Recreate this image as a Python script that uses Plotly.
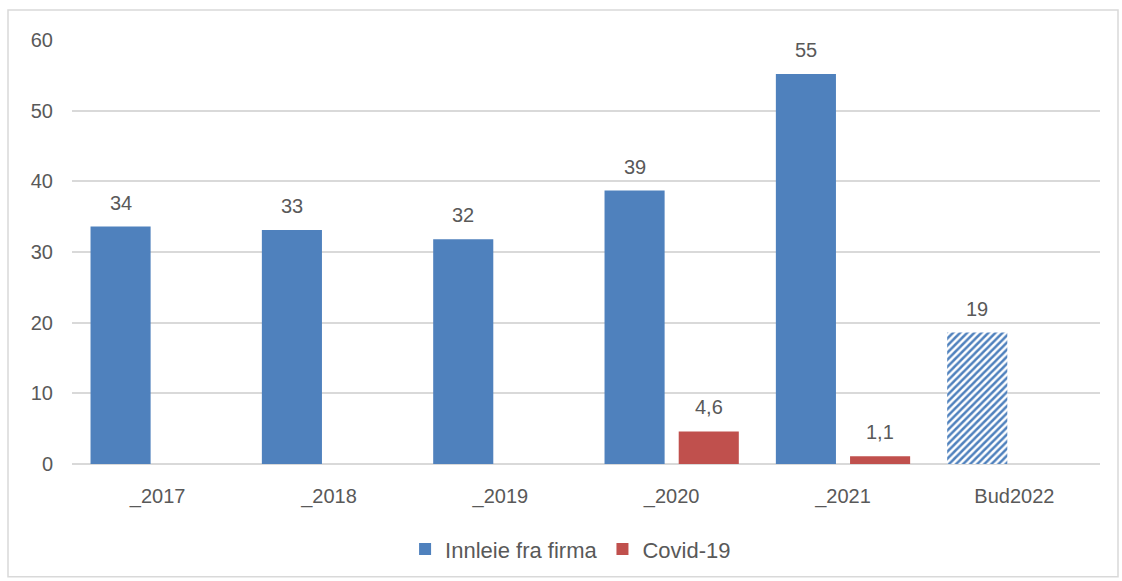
import plotly.graph_objects as go

categories = ["_2017", "_2018", "_2019", "_2020", "_2021", "Bud2022"]
innleie = [33.6, 33.1, 31.8, 38.7, 55.2, 18.6]
innleie_labels = ["34", "33", "32", "39", "55", "19"]
covid = [None, None, None, 4.6, 1.1, None]
covid_labels = ["", "", "", "4,6", "1,1", ""]
patterns = ["", "", "", "", "", "/"]

BLUE = "#4f81bd"
RED = "#c0504d"
GRAY = "#595959"
FONT = "Liberation Sans"
FS = 20

fig = go.Figure()
fig.add_trace(go.Bar(
    name="Innleie fra firma", x=categories, y=innleie,
    marker=dict(color=BLUE, line=dict(width=0),
                pattern=dict(shape=patterns, fgcolor=BLUE, bgcolor="white",
                             fillmode="replace", size=5, solidity=0.5)),
))
fig.add_trace(go.Bar(
    name="Covid-19", x=categories, y=covid,
    marker=dict(color=RED, line=dict(width=0)),
))

# value labels above bars
plot_w = 1122 - 72 - 22
slot = (1 - 0.134) * plot_w / len(categories) / 2
for c, v, t in zip(categories, innleie, innleie_labels):
    fig.add_annotation(x=c, y=v, text=t, showarrow=False, xshift=-slot / 2,
                       yanchor="bottom", yshift=11,
                       font=dict(family=FONT, size=FS, color=GRAY))
for c, v, t in zip(categories, covid, covid_labels):
    if v is not None:
        fig.add_annotation(x=c, y=v, text=t, showarrow=False, xshift=slot / 2,
                           yanchor="bottom", yshift=11,
                           font=dict(family=FONT, size=FS, color=GRAY))

# outer chart border
fig.add_shape(type="rect", xref="paper", yref="paper",
              x0=(8 - 72) / 1028, x1=(1118 - 72) / 1028,
              y0=(465 - 578) / 425, y1=(465 - 10) / 425,
              line=dict(color="#d9d9d9", width=1.5), fillcolor="rgba(0,0,0,0)",
              layer="below")

fig.update_layout(
    width=1122, height=581,
    margin=dict(l=72, r=22, t=40, b=116),
    paper_bgcolor="white", plot_bgcolor="white",
    barmode="group", bargap=0.134, bargroupgap=0.19,
    separators=",.",
    font=dict(family=FONT, size=FS, color=GRAY),
    showlegend=True,
    legend=dict(orientation="h", x=0.485, xanchor="center", y=-0.198, yanchor="middle",
                font=dict(family=FONT, size=22, color=GRAY), itemwidth=30,
                traceorder="normal"),
    xaxis=dict(showgrid=False, showline=False, ticks="", tickfont=dict(size=FS, color=GRAY),
               ticklabelstandoff=18),
    yaxis=dict(range=[0, 60], dtick=10, showgrid=True, gridcolor="#d9d9d9", gridwidth=1.5,
               zeroline=True, zerolinecolor="#d9d9d9", zerolinewidth=1.5,
               showline=False, ticks="", tickfont=dict(size=FS, color=GRAY),
               ticklabelstandoff=18),
)

fig.write_html("out.html")
